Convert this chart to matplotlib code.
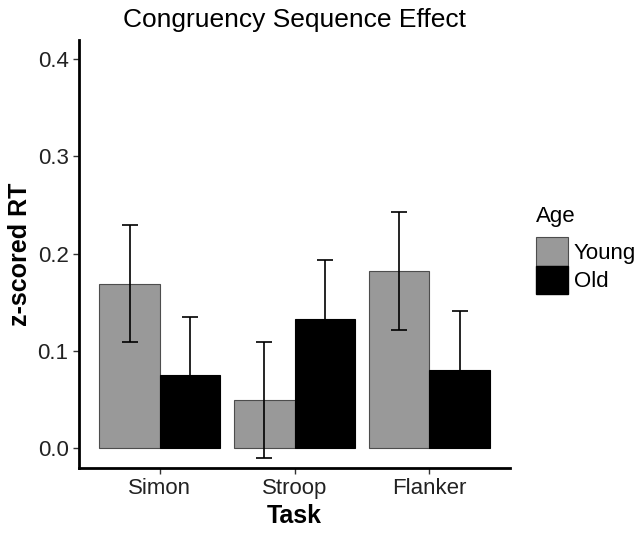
import numpy as np
import matplotlib
matplotlib.use("Agg")
import matplotlib.pyplot as plt
from matplotlib.patches import Patch

plt.rcParams['font.family'] = ['Liberation Sans', 'DejaVu Sans']

tasks = ["Simon", "Stroop", "Flanker"]
young = [0.169, 0.049, 0.182]
old = [0.075, 0.133, 0.080]
young_err = [0.060, 0.060, 0.061]
old_err = [0.060, 0.060, 0.061]

fig = plt.figure(figsize=(6.44, 5.34), dpi=100)
ax = fig.add_axes([0.1227, 0.1236, 0.6693, 0.8015])

x = np.arange(1, len(tasks) + 1)
w = 0.45
ax.bar(x - w / 2, young, w, color="#999999", edgecolor="#4d4d4d", linewidth=0.8)
ax.bar(x + w / 2, old, w, color="black", edgecolor="black", linewidth=0.8)
ax.errorbar(x - w / 2, young, yerr=young_err, fmt="none", ecolor="black",
            elinewidth=1.2, capsize=6, capthick=1.2)
ax.errorbar(x + w / 2, old, yerr=old_err, fmt="none", ecolor="black",
            elinewidth=1.2, capsize=6, capthick=1.2)

ax.set_xlim(0.4, 3.6)
ax.set_ylim(-0.021, 0.42)
ax.set_yticks([0.0, 0.1, 0.2, 0.3, 0.4])
ax.set_yticklabels(["0.0", "0.1", "0.2", "0.3", "0.4"])
ax.set_xticks(x)
ax.set_xticklabels(tasks)
ax.tick_params(labelsize=16, length=4, width=1, color="#333333", labelcolor="#222222")

for s in ["top", "right"]:
    ax.spines[s].set_visible(False)
for s in ["left", "bottom"]:
    ax.spines[s].set_linewidth(2)

ax.set_xlabel("Task", fontsize=18, fontweight="bold", labelpad=3)
ax.set_ylabel("z-scored RT", fontsize=18, fontweight="bold", labelpad=4)
ax.set_title("Congruency Sequence Effect", fontsize=19, pad=9)

handles = [Patch(facecolor="#999999", edgecolor="#4d4d4d", linewidth=0.8),
           Patch(facecolor="black", edgecolor="black")]
leg = fig.legend(handles, ["Young", "Old"], title="Age", loc="upper left",
                 bbox_to_anchor=(0.825, 0.622), frameon=False, fontsize=16,
                 title_fontsize=16, handlelength=1.45, handleheight=1.6,
                 handletextpad=0.25, labelspacing=0.0, borderaxespad=0,
                 borderpad=0.2)
leg._legend_box.align = "left"
leg._legend_box.sep = 7

fig.savefig("out.png", dpi=100)
